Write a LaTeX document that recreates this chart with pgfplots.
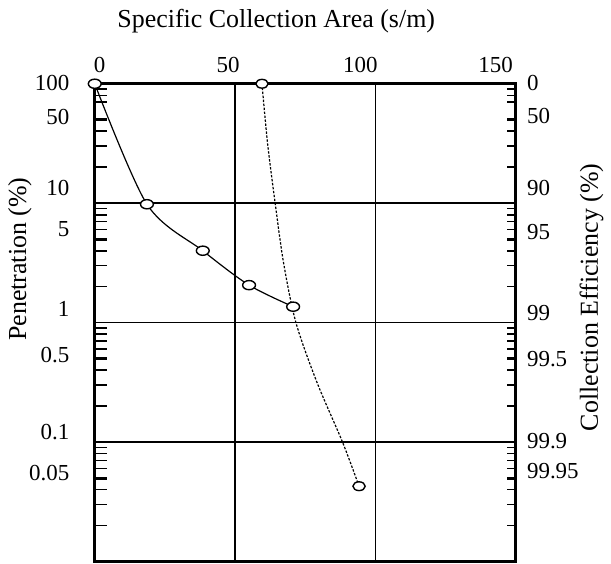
\documentclass[border=0pt]{standalone}
\usepackage{fontspec}
\setmainfont{Liberation Serif}
\usepackage{pgfplots}
\pgfplotsset{compat=1.18}

% minor ticks on the log axis (60 is not drawn in the original)
\pgfplotsset{logminor/.style={minor ytick={90,80,70,40,30,20,9,8,7,6,4,3,2,0.9,0.8,0.7,0.6,0.4,0.3,0.2,0.09,0.08,0.07,0.06,0.04,0.03,0.02}}}

\begin{document}
\fontsize{11.5}{13}\selectfont
\begin{tikzpicture}
\begin{axis}[
  name=ax,
  scale only axis,
  width=211pt, height=239.5pt,
  xmin=0, xmax=150,
  ymode=log, ymin=0.01, ymax=100,
  clip=false,
  axis line style={line width=1.5pt},
  tick align=inside,
  major tick length=0pt,
  xtick={0,50,100,150},
  xticklabels={\kern5pt 0, 50\kern7pt, 100\kern15pt, 150\kern20pt},
  xtick pos=upper, xticklabel pos=upper,
  xticklabel style={yshift=1.7pt},
  xmajorgrids, ymajorgrids,
  grid style={line width=0.8pt, black},
  ytick={100,10,1,0.1},
  yticklabels={\raisebox{1pt}{100},\raisebox{15pt}{10},\raisebox{14pt}{1},\raisebox{10pt}{0.1}},
  ytick pos=left,
  yticklabel style={xshift=-8.7pt},
  extra y ticks={50,5,0.5,0.05},
  extra y tick labels={\raisebox{3pt}{50},\raisebox{10pt}{5},\raisebox{4pt}{0.5},\raisebox{5pt}{0.05}},
  extra y tick style={grid=none, major tick length=6pt, tick style={line width=1.5pt, black}},
  logminor,
  minor tick length=6pt,
  minor tick style={line width=0.8pt, black},
]
\addplot[black, line width=0.6pt, smooth, tension=0.5, mark=*, mark size=2.3pt,
  mark options={fill=white, xscale=1.4, line width=0.7pt}]
  coordinates {(0,100) (18.6,9.8) (38.5,4.0) (55,2.06) (70.7,1.36)};
\addplot[black, line width=0.6pt, dash pattern=on 1.2pt off 0.8pt, smooth, mark=*, mark size=2.2pt,
  mark indices={1,8},
  mark options={solid, fill=white, xscale=1.4, line width=0.7pt}]
  coordinates {(59.6,100) (61.6,31.6) (64.3,10) (67.3,3.16) (71.7,1)
               (79.2,0.316) (88.3,0.1) (94.2,0.0427)};
\end{axis}

\begin{axis}[
  scale only axis,
  width=211pt, height=239.5pt,
  xmin=0, xmax=150,
  ymode=log, ymin=0.01, ymax=100,
  hide x axis,
  axis line style={draw=none},
  tick align=inside,
  major tick length=0pt,
  ytick={100,50,10,5,1,0.5,0.1,0.05},
  yticklabels={\raisebox{1pt}{0},\raisebox{4pt}{50},\raisebox{15pt}{90},\raisebox{7pt}{95},\raisebox{10pt}{99},99.5,\raisebox{1pt}{99.9},\raisebox{7pt}{99.95}},
  ytick pos=right, yticklabel pos=right,
  yticklabel style={xshift=1.7pt},
  extra y ticks={50,5,0.5,0.05},
  extra y tick labels={},
  extra y tick style={major tick length=4.5pt, tick style={line width=1.5pt, black}},
  logminor,
  minor tick length=4.5pt,
  minor tick style={line width=0.8pt, black},
]
\end{axis}

\node[font=\fontsize{13}{15}\selectfont] at ([xshift=91pt,yshift=31.5pt]ax.north west) {Specific Collection Area (s/m)};
\node[rotate=90, font=\fontsize{13}{15}\selectfont] at ([xshift=-37.5pt,yshift=151.6pt]ax.south west) {Penetration (\%)};
\node[rotate=90, font=\fontsize{13}{15}\selectfont] at ([xshift=38pt,yshift=132.4pt]ax.south east) {Collection Efficiency (\%)};
\path ([xshift=-47.5pt,yshift=-1pt]ax.south west) rectangle ++(305.5pt,282.5pt);
\end{tikzpicture}
\end{document}
